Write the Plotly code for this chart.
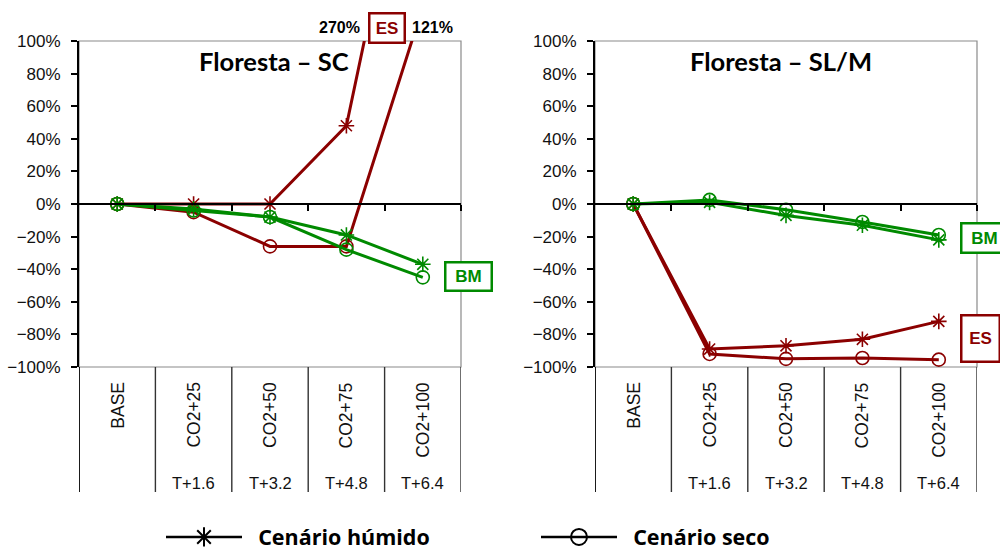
import plotly.graph_objects as go

categories = ["BASE", "CO2+25", "CO2+50", "CO2+75", "CO2+100"]
temp_labels = ["", "T+1.6", "T+3.2", "T+4.8", "T+6.4"]

# Floresta - SC (fractions)
sc_es_humido = [0.0, 0.0, 0.0, 0.48, 2.70]
sc_es_seco = [0.0, -0.05, -0.26, -0.26, 1.21]
sc_bm_humido = [0.0, -0.03, -0.08, -0.19, -0.37]
sc_bm_seco = [0.0, -0.04, -0.08, -0.28, -0.45]

# Floresta - SL/M
slm_es_humido = [0.0, -0.89, -0.87, -0.83, -0.72]
slm_es_seco = [0.0, -0.92, -0.95, -0.945, -0.955]
slm_bm_humido = [0.0, 0.01, -0.07, -0.13, -0.22]
slm_bm_seco = [0.0, 0.025, -0.035, -0.11, -0.19]

RED = "#8B0000"
GREEN = "#008A00"
W, H = 1000, 550


def px(x):
    return x / W


def py(y):
    return 1 - y / H


xs = list(range(len(categories)))
fig = go.Figure()

panels = [
    ("x", "y", [(sc_es_humido, RED, "asterisk-open"), (sc_es_seco, RED, "circle-open"),
                (sc_bm_humido, GREEN, "asterisk-open"), (sc_bm_seco, GREEN, "circle-open")]),
    ("x2", "y2", [(slm_es_humido, RED, "asterisk-open"), (slm_es_seco, RED, "circle-open"),
                  (slm_bm_humido, GREEN, "asterisk-open"), (slm_bm_seco, GREEN, "circle-open")]),
]
for xa, ya, series in panels:
    for vals, col, sym in series:
        fig.add_trace(go.Scatter(
            x=xs, y=vals, xaxis=xa, yaxis=ya, mode="lines+markers",
            line=dict(color=col, width=3),
            marker=dict(symbol=sym, size=13, color=col, line=dict(color=col, width=1.6)),
            showlegend=False, cliponaxis=True, hoverinfo="skip"))

# legend dummies
fig.add_trace(go.Scatter(x=[None], y=[None], mode="lines+markers",
                         name="&nbsp;&nbsp;Cenário húmido",
                         line=dict(color="black", width=2.5),
                         marker=dict(symbol="asterisk-open", size=22, color="black",
                                     line=dict(color="black", width=2))))
fig.add_trace(go.Scatter(x=[None], y=[None], mode="lines+markers",
                         name="&nbsp;&nbsp;Cenário seco",
                         line=dict(color="black", width=2.5),
                         marker=dict(symbol="circle-open", size=20, color="black",
                                     line=dict(color="black", width=2))))

ydom = [py(367), py(41)]
xdoms = [[px(79), px(461)], [px(595), px(977)]]
zero_pos = (ydom[0] + ydom[1]) / 2

FONT = "Liberation Sans"
tickfont = dict(family=FONT, size=17, color="#111")
for i, (xd) in enumerate(xdoms):
    xk = "xaxis" if i == 0 else "xaxis2"
    yk = "yaxis" if i == 0 else "yaxis2"
    xa = "x" if i == 0 else "x2"
    ya = "y" if i == 0 else "y2"
    fig.layout[xk] = dict(domain=xd, range=[-0.5, 4.5], anchor="free", position=zero_pos,
                          showgrid=False, zeroline=False, showline=True, linecolor="black",
                          linewidth=1.5, ticks="outside", ticklen=6, tickwidth=1.5,
                          tickcolor="black", tickvals=[0.5, 1.5, 2.5, 3.5, 4.5],
                          showticklabels=False, fixedrange=True, automargin=False)
    fig.layout[yk] = dict(domain=ydom, range=[-1, 1], anchor=xa, showgrid=False,
                          zeroline=False, showline=True, linecolor="black", linewidth=2,
                          ticks="outside", ticklen=6, tickwidth=1.5, tickcolor="black",
                          tickvals=[-1, -0.8, -0.6, -0.4, -0.2, 0, 0.2, 0.4, 0.6, 0.8, 1.0],
                          tickformat=".0%", tickfont=tickfont, fixedrange=True,
                          automargin=False, ticklabelstandoff=7)
    # plot border (top/right/bottom)
    fig.add_shape(type="rect", xref=xa + " domain", yref=ya + " domain", x0=0, x1=1, y0=0, y1=1,
                  line=dict(color="#8a8a8a", width=1.2), layer="below")
    # category separators below plot
    for b in [-0.5, 0.5, 1.5, 2.5, 3.5, 4.5]:
        fig.add_shape(type="line", xref=xa, yref="paper", x0=b, x1=b, y0=py(492), y1=ydom[0],
                      line=dict(color="#333" if b != -0.5 else "black", width=1.8 if b == -0.5 else 1.4))
    for j, c in enumerate(categories):
        fig.add_annotation(x=j, y=py(380), xref=xa, yref="paper", text=c, textangle=-90,
                           showarrow=False, xanchor="center", yanchor="top",
                           font=dict(family=FONT, size=17.5, color="#111"))
        if temp_labels[j]:
            fig.add_annotation(x=j, y=py(483), xref=xa, yref="paper", text=temp_labels[j],
                               showarrow=False, xanchor="center", yanchor="middle",
                               font=dict(family=FONT, size=16.5, color="#111"))

titlefont = dict(family="Lato", size=25.5, color="black", weight="bold")
fig.add_annotation(x=px(274), y=py(61), xref="paper", yref="paper", text="Floresta – SC",
                   showarrow=False, font=titlefont, xanchor="center", yanchor="middle")
fig.add_annotation(x=px(781), y=py(61), xref="paper", yref="paper", text="Floresta – SL/M",
                   showarrow=False, font=titlefont, xanchor="center", yanchor="middle")

boxfont = dict(family=FONT, size=17, weight="bold")
def box(xc, yc, text, col, w, h):
    fig.add_annotation(x=px(xc), y=py(yc), xref="paper", yref="paper", text=text,
                       showarrow=False, font=dict(boxfont, color=col), bordercolor=col,
                       borderwidth=2.5, borderpad=0, bgcolor="white", width=w, height=h,
                       xanchor="center", yanchor="middle")

box(386.5, 28.5, "ES", RED, 33, 27)
box(468, 276, "BM", GREEN, 44, 26)
box(984, 237.5, "BM", GREEN, 44, 27)
box(980, 338, "ES", RED, 36, 44)

valfont = dict(family=FONT, size=16, color="black", weight="bold")
fig.add_annotation(x=px(339), y=py(28), xref="paper", yref="paper", text="270%",
                   showarrow=False, font=valfont, xanchor="center", yanchor="middle")
fig.add_annotation(x=px(432), y=py(28), xref="paper", yref="paper", text="121%",
                   showarrow=False, font=valfont, xanchor="center", yanchor="middle")

fig.update_layout(
    width=W, height=H, margin=dict(l=0, r=0, t=0, b=0, autoexpand=False),
    paper_bgcolor="white", plot_bgcolor="white",
    showlegend=True,
    legend=dict(orientation="h", x=px(161), y=py(537), xanchor="left", yanchor="middle",
                font=dict(family="Open Sans", size=21.5, color="black", weight="bold"),
                itemwidth=76, entrywidth=284, entrywidthmode="pixels",
                bgcolor="rgba(0,0,0,0)"),
)

fig.write_html("out.html", config={"displayModeBar": False},
               post_script="document.body.style.margin='0px';document.body.style.overflow='hidden';")
